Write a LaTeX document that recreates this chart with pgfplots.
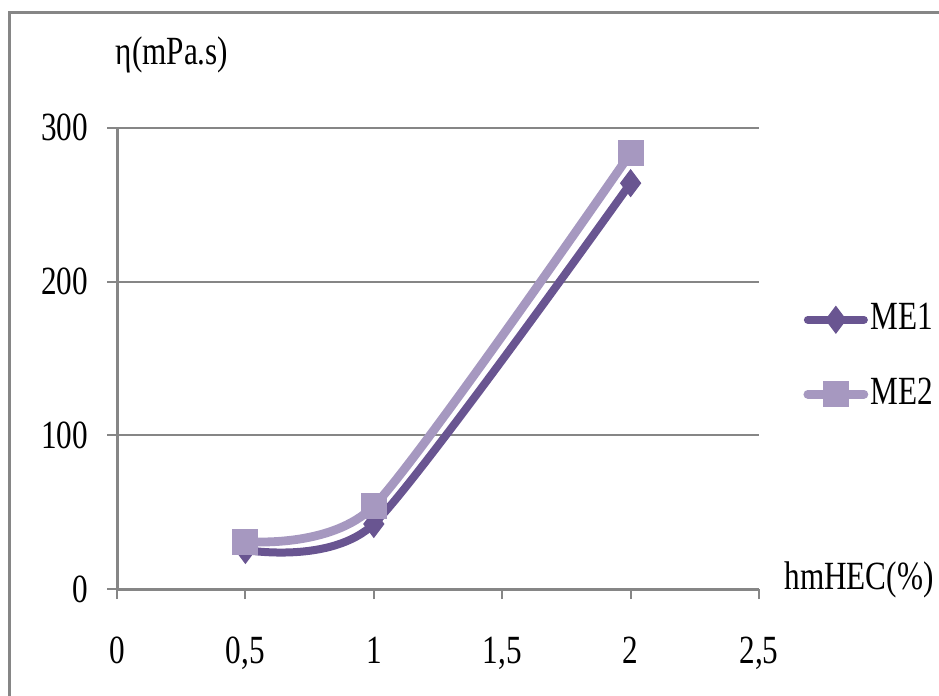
\documentclass[border=0pt]{standalone}
\usepackage{pgfplots}
\pgfplotsset{compat=1.18}
\usepackage{fontspec}
\setmainfont[FakeStretch=0.78]{Liberation Serif}
\definecolor{meA}{RGB}{105,85,145}
\definecolor{meB}{RGB}{166,152,192}
\definecolor{axgray}{RGB}{134,134,134}
\begin{document}
\begin{tikzpicture}
\useasboundingbox (-29.25pt,-26.5pt) rectangle (205.5pt,147.25pt);
\draw[axgray, line width=0.6pt] (-26.875pt,-30pt) -- (-26.875pt,144.1pt) -- (210pt,144.1pt);
\begin{axis}[
  at={(0pt,0pt)}, anchor=south west,
  scale only axis, width=160.5pt, height=115.3pt,
  xmin=0, xmax=2.5, ymin=0, ymax=300,
  axis lines=left,
  axis line style={-, axgray, line width=0.75pt},
  xtick={0,0.5,1,1.5,2,2.5},
  xticklabels={0,{0,5},1,{1,5},2,{2,5}},
  ytick={0,100,200,300},
  tick align=outside,
  major tick length=2.5pt,
  tick style={axgray, line width=0.5pt},
  ymajorgrids,
  grid style={axgray, line width=0.5pt},
  /pgf/number format/assume math mode=true,
  tick label style={font=\fontsize{10pt}{12pt}\selectfont, text=black},
  xticklabel style={yshift=-6pt},
  yticklabel style={xshift=-1.2pt},
  clip=false,
  legend style={at={(rel axis cs:1.068,0.503)}, anchor=west, draw=none, fill=none,
    inner sep=0pt, row sep=6.5pt, font=\fontsize{10pt}{12pt}\selectfont,
    nodes={inner xsep=0.5pt}},
  legend cell align=left,
  legend image code/.code={\draw[mark repeat=2,mark phase=2,line cap=round,#1] plot coordinates {(0pt,0pt) (7pt,0pt) (14pt,0pt)};},
]
\addplot[color=meA, line width=2pt, smooth, tension=0.4, mark=diamond*, mark size=3.3pt, mark options={solid, line width=0.3pt}] coordinates {(0.5,25.4) (1,42.3) (2,264)};
\addplot[color=meB, line width=2.2pt, smooth, tension=0.4, mark=square*, mark size=3.1pt, mark options={solid, line width=0.3pt}] coordinates {(0.5,30.9) (1,54) (2,283.5)};
\legend{ME1,ME2}
\end{axis}
\node[font=\fontsize{10pt}{12pt}\selectfont] at (13.75pt,133.5pt) {η(mPa.s)};
\node[font=\fontsize{10pt}{12pt}\selectfont] at (185.5pt,2.25pt) {hmHEC(\%)};
\end{tikzpicture}
\end{document}
